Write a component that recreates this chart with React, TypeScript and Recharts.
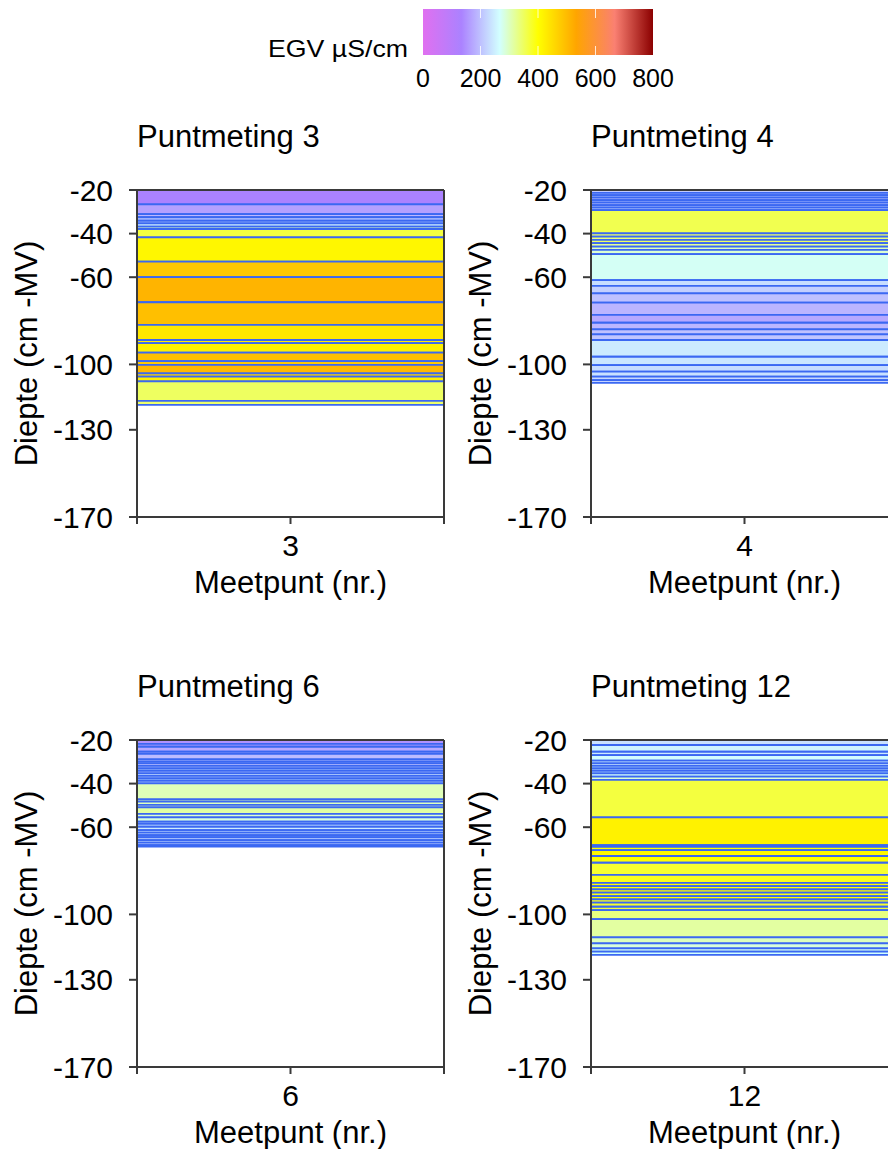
import React from "react";
import { BarChart, Bar, XAxis, YAxis, Label } from "recharts";

// depth ticks on every panel (cm -MV)
const depthTicks = [-20, -40, -60, -100, -130, -170];

// EGV colour scale (µS/cm)
const legendTicks = [0, 200, 400, 600, 800];
const scaleStops = [0, 133.3, 266.7, 400, 533.3, 666.7, 800];
const scaleColors = ["#E070F0", "#AB82FF", "#D2FFFF", "#FFFF00", "#FFA500", "#FA8072", "#8B0000"];

// Puntmeting 3: layer boundaries (cm) and EGV per layer
const p3Depth = [-20, -26.6, -31.1, -32.5, -34.1, -35.3, -36.8, -37.9, -41.7, -52.9, -60.0, -71.5, -81.9, -88.8, -90.2, -94.6, -98.5, -100.2, -104.1, -105.6, -107.8, -116.7, -118.6];
const p3Egv = [133, 165, 190, 210, 220, 245, 300, 367, 412, 481, 511, 495, 434, 425, 420, 493, 480, 505, 465, 425, 350, 345];

// Puntmeting 4
const p4Depth = [-20, -21.3, -22.4, -23.5, -24.7, -25.8, -27.0, -28.1, -29.2, -39.9, -41.4, -42.9, -44.4, -46.0, -47.5, -49.4, -61.3, -64.0, -67.4, -71.7, -77.3, -80.9, -83.9, -86.2, -88.8, -96.5, -100.3, -103.3, -105.6, -107.2, -108.5];
const p4Egv = [210, 205, 215, 200, 210, 205, 215, 220, 358, 345, 335, 350, 320, 300, 290, 272, 230, 215, 200, 188, 175, 190, 200, 205, 245, 240, 230, 235, 225, 220];

// Puntmeting 6
const p6Depth = [-20, -21.8, -23.1, -25.4, -26.4, -28.9, -29.9, -30.7, -31.9, -33.0, -34.1, -35.3, -36.5, -37.6, -38.7, -39.9, -47.2, -48.3, -49.8, -50.9, -53.9, -55.5, -57.5, -58.5, -59.8, -61.3, -62.5, -63.6, -64.6, -65.9, -67.1, -68.2, -68.9];
const p6Egv = [150, 160, 175, 185, 195, 205, 215, 200, 210, 225, 215, 230, 220, 235, 240, 304, 310, 300, 305, 315, 292, 285, 250, 240, 245, 235, 230, 240, 225, 230, 220, 215];

// Puntmeting 12
const p12Depth = [-20, -22.3, -25.4, -26.9, -29.5, -30.7, -31.9, -33.0, -34.1, -35.3, -36.8, -38.3, -55.5, -68.2, -69.0, -70.5, -73.2, -76.3, -81.9, -85.5, -87.0, -88.5, -90.0, -91.6, -93.1, -94.6, -96.5, -98.0, -102.2, -110.5, -113.3, -115.6, -117.1, -118.6];
const p12Egv = [235, 255, 245, 265, 250, 240, 255, 245, 260, 270, 290, 367, 419, 405, 400, 410, 400, 375, 385, 405, 395, 410, 390, 405, 385, 375, 370, 333, 316, 300, 285, 275, 268];

const LINE = "#3B68F2";
const AXIS = "#3a3a3a";
const FONT = '"Liberation Sans", Arial, Helvetica, sans-serif';

function hexToRgb(h: string) {
  const n = parseInt(h.slice(1), 16);
  return [(n >> 16) & 255, (n >> 8) & 255, n & 255];
}

function egvColor(v: number) {
  let i = 0;
  while (i < scaleStops.length - 2 && v > scaleStops[i + 1]) i++;
  const t = Math.max(0, Math.min(1, (v - scaleStops[i]) / (scaleStops[i + 1] - scaleStops[i])));
  const a = hexToRgb(scaleColors[i]);
  const b = hexToRgb(scaleColors[i + 1]);
  const c = a.map((ch, k) => Math.round(ch + (b[k] - ch) * t));
  return `rgb(${c[0]},${c[1]},${c[2]})`;
}

const LayerShape = (props: any) => {
  const { x, y, width, height, fill } = props;
  const top = Math.min(y, y + height);
  const h = Math.abs(height);
  return (
    <g>
      <rect x={x} y={top} width={width} height={h} fill={fill} />
      <line x1={x} x2={x + width} y1={top} y2={top} stroke={LINE} strokeWidth={1.8} />
      <line x1={x} x2={x + width} y1={top + h} y2={top + h} stroke={LINE} strokeWidth={1.8} />
    </g>
  );
};

function Panel({ left, top, point, depth, egv }: { left: number; top: number; point: number; depth: number[]; egv: number[] }) {
  const row: Record<string, any> = { name: String(point), x: point, d0: depth[0] };
  egv.forEach((_, i) => {
    row[`l${i + 1}`] = depth[i + 1] - depth[i];
  });
  const axisStyle = { stroke: AXIS, strokeWidth: 2 };

  return (
    <div style={{ position: "absolute", left, top }}>
      <BarChart
        width={460}
        height={437}
        data={[row]}
        margin={{ top: 19, right: 15, left: 0, bottom: 0 }}
        barCategoryGap={0}
        barGap={0}
      >
        <Bar dataKey="d0" stackId="s" fill="none" isAnimationActive={false} />
        {egv.map((v, i) => (
          <Bar
            key={i}
            dataKey={`l${i + 1}`}
            stackId="s"
            fill={egvColor(v)}
            shape={LayerShape}
            isAnimationActive={false}
          />
        ))}
        <XAxis dataKey="name" type="category" hide height={0} />
        <XAxis
          xAxisId="num"
          dataKey="x"
          type="number"
          domain={[point - 0.5, point + 0.5]}
          allowDataOverflow
          ticks={[point - 0.5, point, point + 0.5]}
          interval={0}
          tickFormatter={(v) => (v === point ? String(point) : "")}
          height={90}
          tickSize={7}
          tickMargin={11}
          axisLine={axisStyle}
          tickLine={axisStyle}
          tick={{ fill: "#000", fontSize: 30 }}
        >
          <Label value="Meetpunt (nr.)" position="insideBottom" offset={14} fill="#000" fontSize={31} />
        </XAxis>
        <XAxis
          xAxisId="top"
          orientation="top"
          type="number"
          domain={[0, 1]}
          allowDataOverflow
          height={1}
          tick={false}
          tickLine={false}
          axisLine={axisStyle}
        />
        <YAxis
          type="number"
          domain={[-170, -20]}
          allowDataOverflow
          ticks={depthTicks}
          interval={0}
          width={137}
          tickSize={8}
          tickMargin={16}
          axisLine={axisStyle}
          tickLine={axisStyle}
          tick={{ fill: "#000", fontSize: 30 }}
        >
          <Label
            value="Diepte (cm -MV)"
            angle={-90}
            position="insideLeft"
            offset={26}
            fill="#000"
            fontSize={31}
            style={{ textAnchor: "middle" }}
          />
        </YAxis>
        <YAxis
          yAxisId="frame"
          orientation="right"
          type="number"
          domain={[0, 1]}
          allowDataOverflow
          width={1}
          tick={false}
          tickLine={false}
          axisLine={axisStyle}
        />
      </BarChart>
    </div>
  );
}

export default function App() {
  const barX = 423;
  const barW = 230;
  return (
    <div
      style={{
        position: "absolute",
        left: 0,
        top: 0,
        width: 888,
        height: 1149,
        overflow: "hidden",
        background: "#fff",
        fontFamily: FONT,
      }}
    >
      <Panel left={0} top={170} point={3} depth={p3Depth} egv={p3Egv} />
      <Panel left={454} top={170} point={4} depth={p4Depth} egv={p4Egv} />
      <Panel left={0} top={720} point={6} depth={p6Depth} egv={p6Egv} />
      <Panel left={454} top={720} point={12} depth={p12Depth} egv={p12Egv} />

      <svg width={888} height={1149} style={{ position: "absolute", left: 0, top: 0, pointerEvents: "none" }}>
        <defs>
          <linearGradient id="egv" x1="0" x2="1" y1="0" y2="0">
            {scaleColors.map((c, i) => (
              <stop key={i} offset={scaleStops[i] / 800} stopColor={c} />
            ))}
          </linearGradient>
        </defs>
        <text x={408} y={57} textAnchor="end" fontSize={24} textLength={140} lengthAdjust="spacingAndGlyphs" fill="#000">
          EGV µS/cm
        </text>
        <rect x={barX} y={9} width={barW} height={46} fill="url(#egv)" />
        {legendTicks.slice(1, -1).map((t) => (
          <g key={t}>
            <line x1={barX + (t / 800) * barW} x2={barX + (t / 800) * barW} y1={9} y2={18} stroke="#fff" strokeWidth={1} opacity={0.8} />
            <line x1={barX + (t / 800) * barW} x2={barX + (t / 800) * barW} y1={46} y2={55} stroke="#fff" strokeWidth={1} opacity={0.8} />
          </g>
        ))}
        {legendTicks.map((t) => (
          <text key={t} x={barX + (t / 800) * barW} y={87} textAnchor="middle" fontSize={25} fill="#000">
            {t}
          </text>
        ))}
        <text x={137} y={147} fontSize={31} fill="#000">Puntmeting 3</text>
        <text x={591} y={147} fontSize={31} fill="#000">Puntmeting 4</text>
        <text x={137} y={697} fontSize={31} fill="#000">Puntmeting 6</text>
        <text x={591} y={697} fontSize={31} fill="#000">Puntmeting 12</text>
      </svg>
    </div>
  );
}
